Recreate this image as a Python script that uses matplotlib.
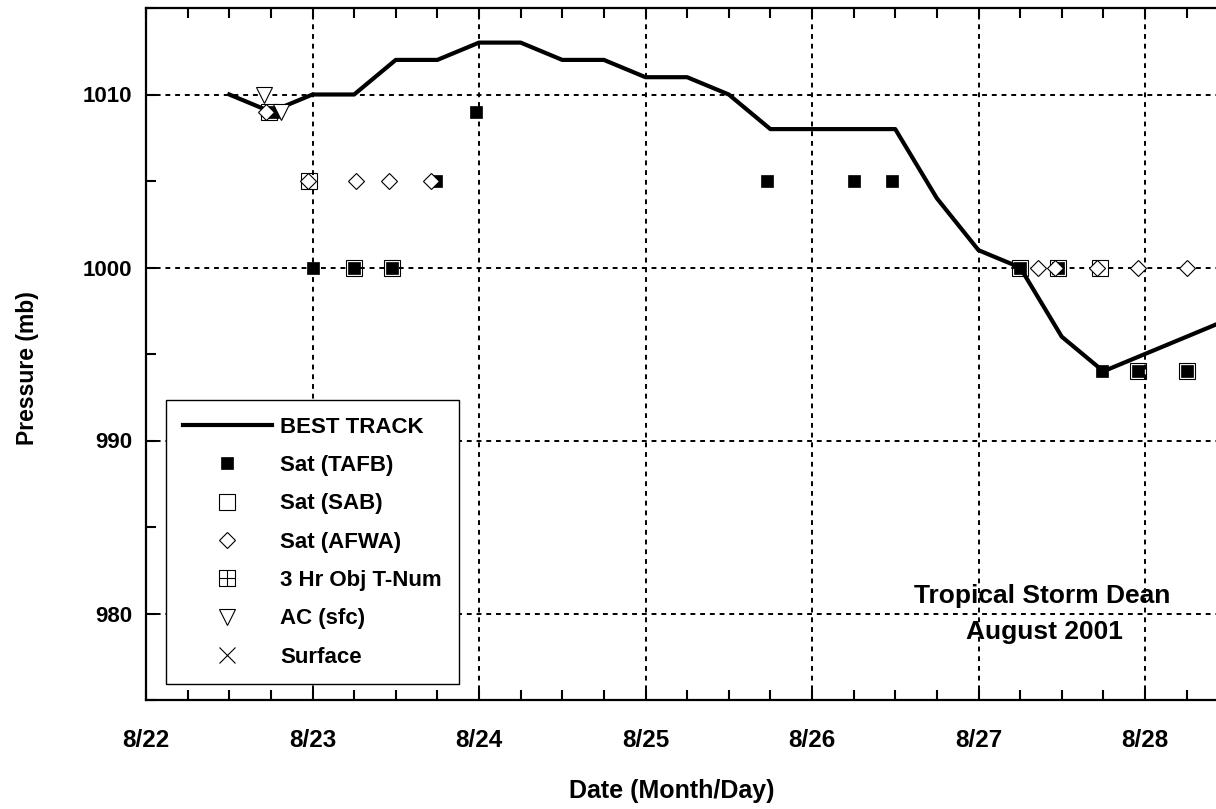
import numpy as np
import matplotlib
matplotlib.use("Agg")
import matplotlib.pyplot as plt
from matplotlib.path import Path
from matplotlib.ticker import MultipleLocator, FixedLocator

plt.rcParams['font.family'] = ['Liberation Sans', 'DejaVu Sans']
plt.rcParams['font.weight'] = 'bold'

# Best track (6-hourly), day of August
best_t = [22.5, 22.75, 23.0, 23.25, 23.5, 23.75, 24.0, 24.25, 24.5, 24.75, 25.0, 25.25,
          25.5, 25.75, 26.0, 26.25, 26.5, 26.75, 27.0, 27.25, 27.5, 27.75, 28.0, 28.25, 28.5]
best_p = [1010, 1009, 1010, 1010, 1012, 1012, 1013, 1013, 1012, 1012, 1011, 1011,
          1010, 1008, 1008, 1008, 1008, 1004, 1001, 1000, 996, 994, 995, 996, 997]

# Satellite / recon fixes
tafb_t = [22.76, 23.0, 23.25, 23.48, 23.74, 23.98, 25.73, 26.25, 26.48, 27.25, 27.48, 27.74, 27.96, 28.25]
tafb_p = [1009, 1000, 1000, 1000, 1005, 1009, 1005, 1005, 1005, 1000, 1000, 994, 994, 994]
sab_t = [22.74, 22.98, 23.25, 23.48, 27.25, 27.48, 27.73, 27.96, 28.25]
sab_p = [1009, 1005, 1000, 1000, 1000, 1000, 1000, 994, 994]
afwa_t = [22.72, 22.97, 23.26, 23.46, 23.71, 27.36, 27.46, 27.71, 27.96, 28.25]
afwa_p = [1009, 1005, 1005, 1005, 1005, 1000, 1000, 1000, 1000, 1000]
objt_t = []
objt_p = []
ac_t = [22.71, 22.81]
ac_p = [1010, 1009]
sfc_t = []
sfc_p = []

day_ticks = [22, 23, 24, 25, 26, 27, 28]
day_labels = ['8/22', '8/23', '8/24', '8/25', '8/26', '8/27', '8/28']
p_ticks = [980, 990, 1000, 1010]

# open square with a cross through it
boxplus = Path([(-1, -1), (1, -1), (1, 1), (-1, 1), (-1, -1), (0, -1), (0, 1), (-1, 0), (1, 0)],
               [Path.MOVETO, Path.LINETO, Path.LINETO, Path.LINETO, Path.CLOSEPOLY,
                Path.MOVETO, Path.LINETO, Path.MOVETO, Path.LINETO])

fig = plt.figure(figsize=(12.16, 8.09), dpi=100)
# axes runs off the right edge like the original figure
ax = fig.add_axes([146/1216, 1 - 700/809, 1165.5/1216, 692/809])

ax.plot(best_t, best_p, color='k', lw=3, zorder=3, label='BEST TRACK')
ax.plot(tafb_t, tafb_p, ls='none', marker='s', ms=8.5, mfc='k', mec='k', mew=0.5, zorder=4, label='Sat (TAFB)')
ax.plot(sab_t, sab_p, ls='none', marker='s', ms=11, mfc='none', mec='k', mew=0.8, zorder=5, label='Sat (SAB)')
ax.plot(afwa_t, afwa_p, ls='none', marker='D', ms=8, mfc='white', mec='k', mew=0.8, zorder=6, label='Sat (AFWA)')
ax.plot(objt_t, objt_p, ls='none', marker=boxplus, ms=11, mfc='none', mec='k', mew=0.8, zorder=5, label='3 Hr Obj T-Num')
ax.plot(ac_t, ac_p, ls='none', marker='v', ms=11, mfc='white', mec='k', mew=0.8, zorder=7, label='AC (sfc)')
ax.plot(sfc_t, sfc_p, ls='none', marker='x', ms=11, color='k', mew=0.8, zorder=7, label='Surface')

ax.set_xlim(22, 29)
ax.set_ylim(975, 1015)
ax.xaxis.set_major_locator(FixedLocator(day_ticks))
ax.set_xticklabels(day_labels)
ax.xaxis.set_minor_locator(MultipleLocator(0.25))
ax.yaxis.set_major_locator(FixedLocator(p_ticks))
ax.yaxis.set_minor_locator(MultipleLocator(5))

ax.tick_params(which='both', direction='in', top=True, right=False, width=1.5, length=7)
ax.tick_params(axis='x', which='major', labelsize=17.5, pad=21)
ax.tick_params(axis='y', which='major', labelsize=16, pad=10)
for s in ['left', 'bottom', 'top']:
    ax.spines[s].set_linewidth(1.6)
ax.spines['right'].set_visible(False)

ax.grid(True, which='major', color='k', lw=1.4, ls=(0, (2.5, 2.5)))

fig.text(672/1216, 1 - 791/809, 'Date (Month/Day)', ha='center', va='center', fontsize=18, fontweight='bold')
fig.text(28/1216, 1 - 368/809, 'Pressure (mb)', ha='center', va='center', rotation=90, fontsize=16.5, fontweight='bold')

fig.text(1042/1216, 1 - 596/809, 'Tropical Storm Dean', ha='center', va='center', fontsize=19, fontweight='bold')
fig.text(1044/1216, 1 - 632/809, 'August 2001', ha='center', va='center', fontsize=19, fontweight='bold')

leg = ax.legend(loc='upper left', bbox_to_anchor=(20/1165.5, (700 - 400)/692), borderaxespad=0,
                fancybox=False, edgecolor='k', framealpha=1, fontsize=16, handlelength=4.0,
                handletextpad=0.4, labelspacing=0.78, borderpad=0.75, numpoints=1)
leg.get_frame().set_linewidth(1.0)
for t in leg.get_texts():
    t.set_fontweight('bold')

fig.savefig('out.png', dpi=100)
